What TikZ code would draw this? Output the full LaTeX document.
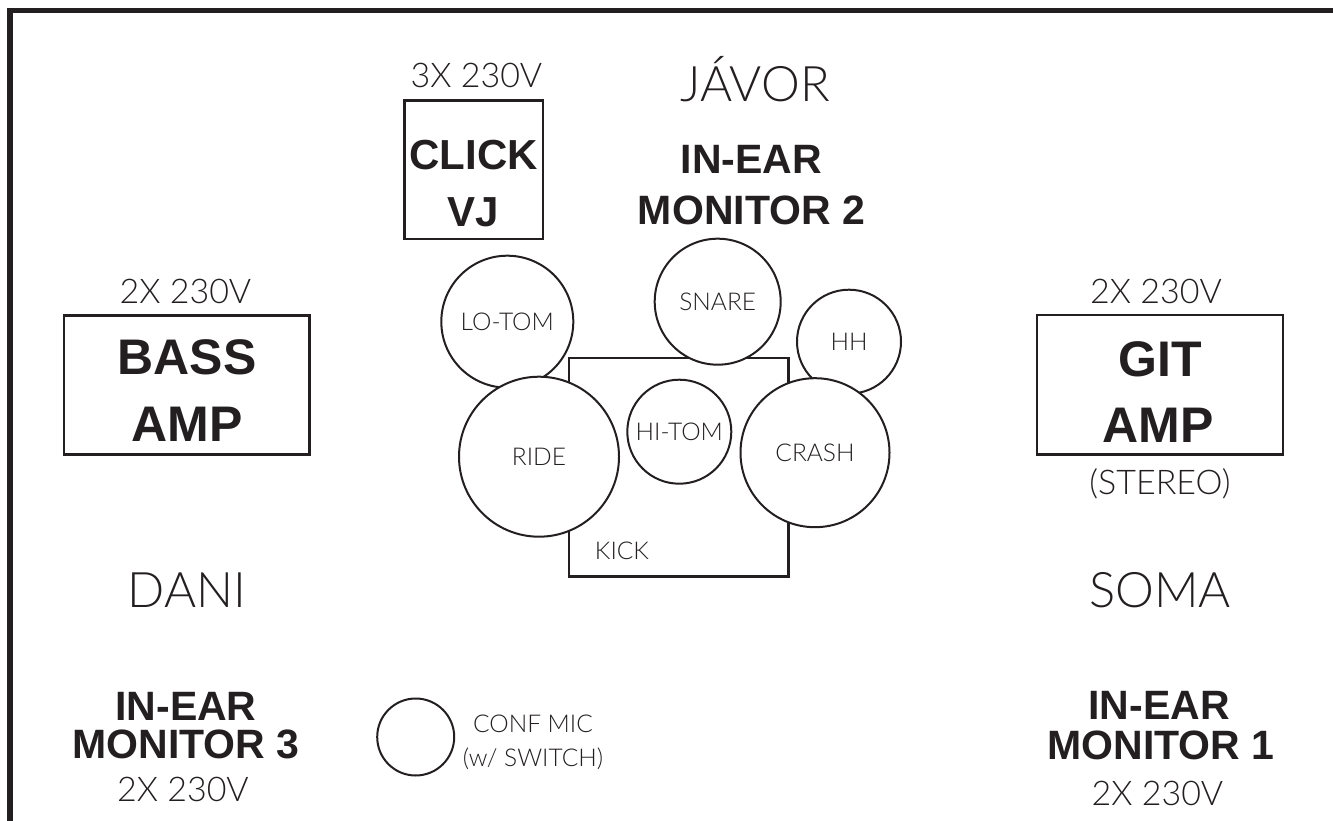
\documentclass[tikz,border=0pt]{standalone}
\usepackage{fontspec}
\setmainfont{Liberation Sans}
\newfontfamily\lightfont{Lato Light}
\definecolor{ink}{HTML}{231F20}
\tikzset{
  lt/.style={font=\lightfont\fontsize{34}{34}\selectfont, anchor=base, inner sep=0pt, text=ink},
  who/.style={font=\lightfont\fontsize{49}{49}\selectfont, anchor=base, inner sep=0pt, text=ink},
  mon/.style={font=\bfseries\fontsize{41}{41}\selectfont, anchor=base, inner sep=0pt, text=ink},
  amp/.style={font=\bfseries\fontsize{50}{50}\selectfont, anchor=base, inner sep=0pt, text=ink},
  clk/.style={font=\bfseries\fontsize{42}{42}\selectfont, anchor=base, inner sep=0pt, text=ink},
  small/.style={font=\lightfont\fontsize{24.5}{24.5}\selectfont, text=ink},
  boxed/.style={draw=ink, line width=2.5pt, inner sep=0pt},
  drum/.style={circle, draw=ink, fill=white, line width=2pt, inner sep=0pt,
               font=\lightfont\fontsize{24.5}{24.5}\selectfont, text=ink},
}
\begin{document}
\begin{tikzpicture}[x=1pt, y=-1pt]
\useasboundingbox (0,0) rectangle (1333,821);
% frame
\coordinate (fbl) at (10,821);
\coordinate (ftl) at (10,10.7);
\coordinate (ftr) at (1333,10.7);
\draw[ink, line width=5.3pt] (fbl) -- (ftl) -- (ftr);

% click box
\node[boxed, minimum width=138.5pt, minimum height=138.5pt] (clickbox) at (473.75,169.75) {};
\node[lt] (clickpow) at (476.5,88) {3X 230V};
\node[clk] (click) at (473.5,170) {CLICK};
\node[clk] (vj) at (473.5,226.5) {VJ};

% javor
\node[who] (javor) at (755,102) {JÁVOR};
\node[mon] (m2a) at (751.5,173.3) {IN-EAR};
\node[mon] (m2b) at (751.5,224.5) {MONITOR 2};

% bass amp
\node[boxed, minimum width=245.5pt, minimum height=139pt] (bassbox) at (186.75,385) {};
\node[lt] (basspow) at (185.5,303.3) {2X 230V};
\node[amp] (bass1) at (187,374.5) {BASS};
\node[amp] (bass2) at (187,441.5) {AMP};

% git amp
\node[boxed, minimum width=246pt, minimum height=139.5pt] (gitbox) at (1160,384.75) {};
\node[lt] (gitpow) at (1156,303) {2X 230V};
\node[amp] (git1) at (1160,376) {GIT};
\node[amp] (git2) at (1158,442) {AMP};
\node[lt] (stereo) at (1160,494) {(STEREO)};

% drums
\node[draw=ink, line width=2.5pt, inner sep=0pt, minimum width=219.5pt, minimum height=218.5pt] (kick) at (678.8,467.2) {};
\node[small, anchor=base, inner sep=0pt] (kicklbl) at (622,559.5) {KICK};
\node[drum, minimum size=132pt] (lotom) at (507.3,321.7) {LO-TOM};
\node[drum, minimum size=126pt] (snare) at (717.7,301.7) {SNARE};
\node[drum, minimum size=104pt] (hh) at (849,341.7) {HH};
\node[drum, minimum size=104pt] (hitom) at (679.3,431.7) {HI-TOM};
\node[drum, minimum size=160pt] (ride) at (539,456.7) {RIDE};
\node[drum, minimum size=149pt] (crash) at (815,452.7) {CRASH};

% dani / soma
\node[who] (dani) at (187,607) {DANI};
\node[who] (soma) at (1160,607) {SOMA};

% monitor 3
\node[mon] (m3a) at (186,720) {IN-EAR};
\node[mon] (m3b) at (186,758) {MONITOR 3};
\node[lt] (m3pow) at (183,801.5) {2X 230V};

% monitor 1
\node[mon] (m1a) at (1159,719.3) {IN-EAR};
\node[mon] (m1b) at (1161,759.3) {MONITOR 1};
\node[lt] (m1pow) at (1157.5,805) {2X 230V};

% conf mic
\node[circle, draw=ink, line width=2pt, minimum size=77pt, inner sep=0pt] (mic) at (415.7,737) {};
\node[small, anchor=base, inner sep=0pt] (mic1) at (533,732) {CONF MIC};
\node[small, anchor=base, inner sep=0pt] (mic2) at (533,766) {(w/ SWITCH)};
\end{tikzpicture}
\end{document}
